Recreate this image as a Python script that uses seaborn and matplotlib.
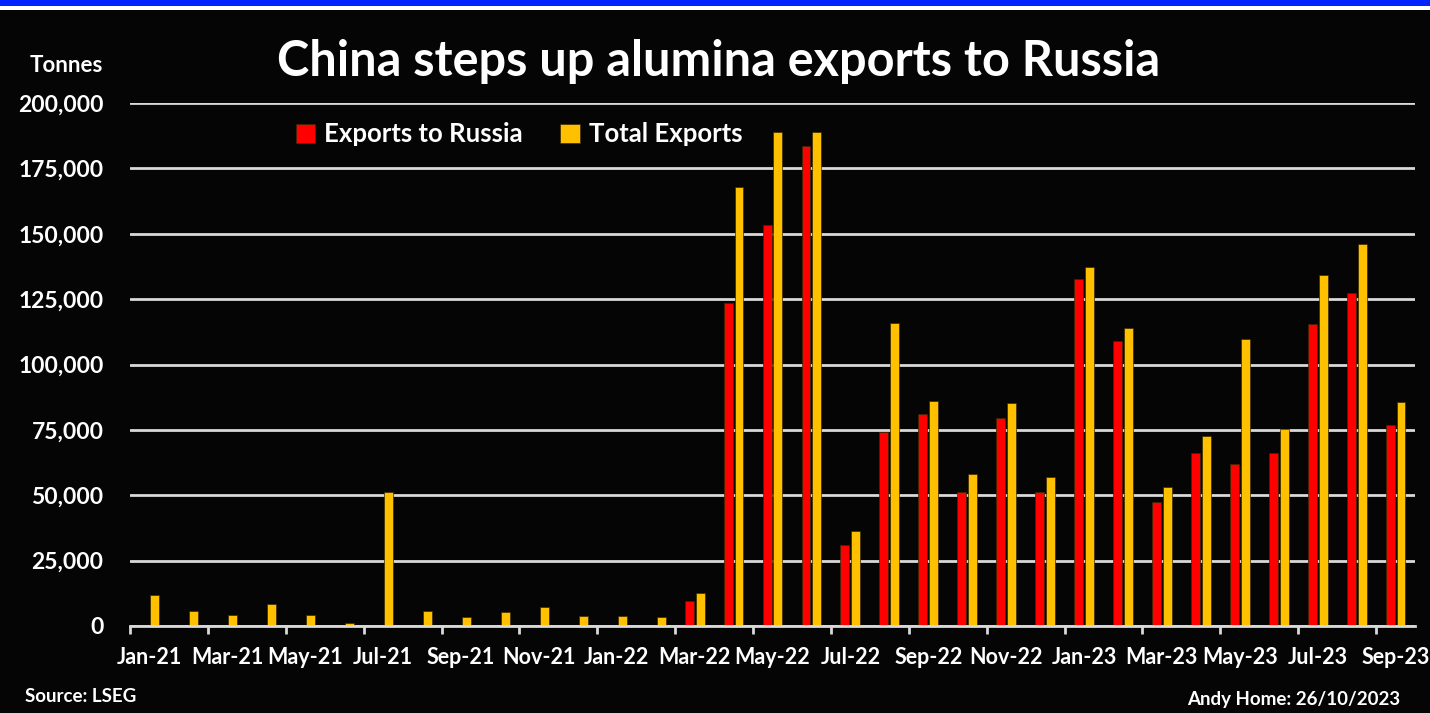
import pandas as pd
import matplotlib.pyplot as plt
import seaborn as sns
from matplotlib.patches import Rectangle
from matplotlib.ticker import FuncFormatter, FixedLocator

# Monthly alumina exports from China, tonnes
months = ['Jan-21', 'Feb-21', 'Mar-21', 'Apr-21', 'May-21', 'Jun-21',
          'Jul-21', 'Aug-21', 'Sep-21', 'Oct-21', 'Nov-21', 'Dec-21',
          'Jan-22', 'Feb-22', 'Mar-22', 'Apr-22', 'May-22', 'Jun-22',
          'Jul-22', 'Aug-22', 'Sep-22', 'Oct-22', 'Nov-22', 'Dec-22',
          'Jan-23', 'Feb-23', 'Mar-23', 'Apr-23', 'May-23', 'Jun-23',
          'Jul-23', 'Aug-23', 'Sep-23']
to_russia = [0, 0, 0, 0, 0, 0, 0, 0, 0, 0, 0, 0, 0, 0,
             9700, 123700, 153200, 183700, 31100, 74200, 81200, 51100,
             79700, 51200, 132800, 108800, 47300, 66300, 61900, 66300,
             115300, 127300, 76800]
total = [11800, 5700, 4200, 8300, 4200, 1300, 51200, 5700, 3300, 5200,
         7300, 3700, 3700, 3300, 12600, 167800, 188800, 188800, 36200,
         115800, 86200, 58200, 85200, 56800, 137200, 113800, 53300, 72800,
         109800, 75300, 134300, 146200, 85700]
series_names = ['Exports to Russia', 'Total Exports']
colors = ['#FF0000', '#FFC000']

df = pd.DataFrame({
    'month': months * 2,
    'series': [series_names[0]] * len(months) + [series_names[1]] * len(months),
    'tonnes': to_russia + total,
})

bg = '#050505'
grid_col = '#D9D9D9'
font = ['Lato', 'DejaVu Sans']

sns.set_style('dark')
plt.rcParams['font.family'] = font
plt.rcParams['font.weight'] = 'bold'

fig = plt.figure(figsize=(14.3, 7.13), dpi=100, facecolor=bg)
ax = fig.add_axes([130 / 1430, 87 / 713, 1285 / 1430, 523 / 713])
ax.set_facecolor(bg)

sns.barplot(data=df, x='month', y='tonnes', hue='series', order=months,
            hue_order=series_names, palette=colors, saturation=1,
            width=0.56, gap=0.18, edgecolor='#3a2a00', linewidth=0.5,
            ax=ax, zorder=3)

ax.set_xlim(-0.5, len(months) - 0.5)
ax.set_ylim(0, 200000)
ax.set_yticks(range(0, 200001, 25000))
ax.yaxis.set_major_formatter(FuncFormatter(lambda v, p: f'{int(v):,}'))
ax.grid(axis='y', color=grid_col, linewidth=2, zorder=0)
ax.grid(axis='x', visible=False)
for s in ['top', 'right', 'left']:
    ax.spines[s].set_visible(False)
ax.spines['bottom'].set_color(grid_col)
ax.spines['bottom'].set_linewidth(2)
ax.spines['bottom'].set_zorder(4)

ax.set_xticks(range(0, len(months), 2))
ax.set_xticklabels(months[::2])
ax.xaxis.set_minor_locator(FixedLocator([i - 0.5 for i in range(0, len(months), 2)]))
ax.tick_params(axis='x', which='major', length=0, pad=15, labelsize=15.5,
               labelcolor='white')
ax.tick_params(axis='x', which='minor', length=6, width=2, color=grid_col,
               direction='out', bottom=True)
ax.tick_params(axis='y', length=0, pad=19, labelsize=16.5, labelcolor='white')
ax.set_xlabel('')
ax.set_ylabel('')

handles, labels = ax.get_legend_handles_labels()
ax.legend(handles, labels, ncol=2, loc='upper left',
          bbox_to_anchor=(143 / 1285, 1.007), frameon=False,
          handlelength=0.75, handleheight=0.75, handletextpad=0.35,
          columnspacing=1.45, labelcolor='white',
          prop={'family': font, 'weight': 'bold', 'size': 18.5})

fig.text(719 / 1430, 1 - 62 / 713, 'China steps up alumina exports to Russia',
         color='white', fontsize=35, fontweight='bold', ha='center', va='center')
fig.text(103 / 1430, 1 - 66 / 713, 'Tonnes', color='white', fontsize=16,
         fontweight='bold', ha='right', va='center')
fig.text(25 / 1430, 1 - 697 / 713, 'Source: LSEG', color='white', fontsize=13.5,
         fontweight='bold', ha='left', va='center')
fig.text(1400 / 1430, 1 - 700 / 713, 'Andy Home: 26/10/2023', color='white',
         fontsize=13.5, fontweight='bold', ha='right', va='center')

# blue band with white strip across the top
fig.patches.append(Rectangle((0, 707 / 713), 1, 6 / 713, transform=fig.transFigure,
                             facecolor='#0022FF', edgecolor='none'))
fig.patches.append(Rectangle((0, 703 / 713), 1, 4 / 713, transform=fig.transFigure,
                             facecolor='white', edgecolor='none'))

fig.savefig('out.png', dpi=100, facecolor=bg)
